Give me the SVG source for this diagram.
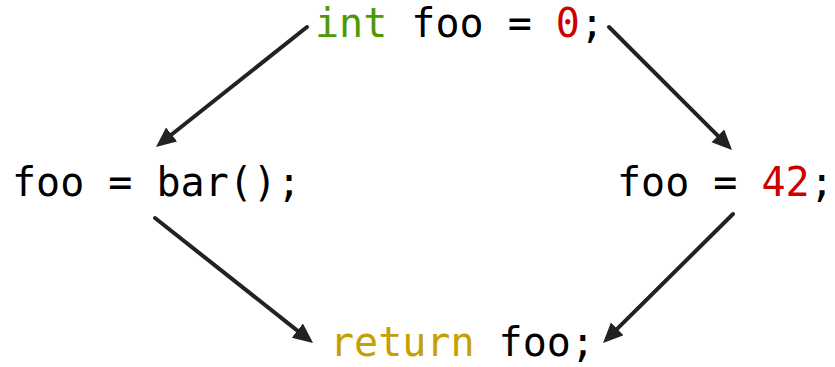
<svg xmlns="http://www.w3.org/2000/svg" width="835" height="367" viewBox="0 0 835 367">
<style>
text{font-family:"DejaVu Sans Mono","Liberation Mono",monospace;font-size:40px;fill:#000}
.kw{fill:#4e9a06}.num{fill:#cc0000}.ret{fill:#c4a000}
.edge{fill:none;stroke:#222;stroke-width:4;stroke-linecap:round}
</style>
<defs>
<marker id="ah" markerUnits="userSpaceOnUse" markerWidth="22" markerHeight="20" refX="4" refY="9" orient="auto">
<path d="M0,0 L20,9 L0,18 z" fill="#222"/>
</marker>
</defs>
<rect width="835" height="367" fill="#fff"/>
<g id="connectors">
<path class="edge" d="M307,27 L168.5,137" marker-end="url(#ah)"/>
<path class="edge" d="M609,27 L720.7,138.7" marker-end="url(#ah)"/>
<path class="edge" d="M155,218 L300.5,333.1" marker-end="url(#ah)"/>
<path class="edge" d="M733,214 L614.4,331.7" marker-end="url(#ah)"/>
</g>
<g id="init"><text x="315" y="37"><tspan class="kw">int</tspan> foo = <tspan class="num">0</tspan>;</text></g>
<g id="assignBar"><text x="12" y="196">foo = bar();</text></g>
<g id="assign42"><text x="617" y="196">foo = <tspan class="num">42</tspan>;</text></g>
<g id="ret"><text x="330" y="356"><tspan class="ret">return</tspan> foo;</text></g>
</svg>
